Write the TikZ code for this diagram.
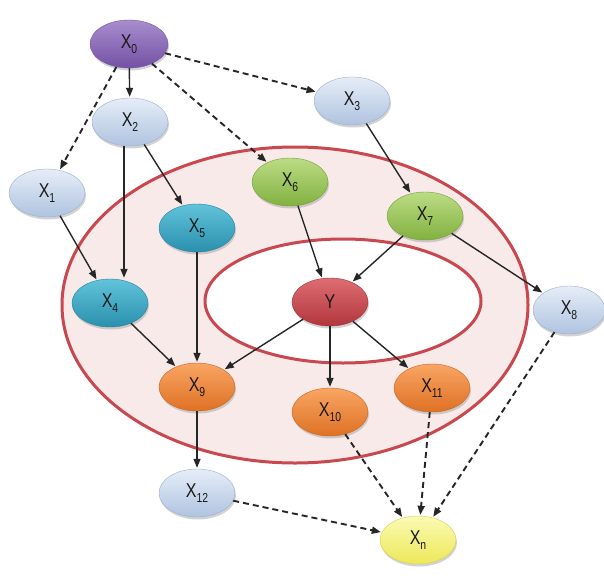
\documentclass[tikz,border=0pt]{standalone}
\usepackage{fontspec}
\setmainfont{Liberation Sans}
\usetikzlibrary{shapes.geometric,arrows.meta,shadows}
\definecolor{ringred}{HTML}{C9484F}
\definecolor{ringfill}{HTML}{F9EAEA}
\newcommand\Xs[1]{\scalebox{0.8}[1]{X\raisebox{-5pt}{\fontsize{13}{13}\selectfont #1}}}
\tikzset{
  vnode/.style={ellipse, minimum width=76pt, minimum height=48pt, inner sep=0pt,
    font=\fontsize{20}{20}\selectfont, text=black!90,
    drop shadow={opacity=0.35, shadow xshift=1pt, shadow yshift=-2.5pt}},
  cpurple/.style={vnode, top color=ptop, bottom color=pbot, draw=pbot},
  cblue/.style={vnode, top color=btop, bottom color=bbot, draw=bbot!90!black},
  cteal/.style={vnode, top color=ttop, bottom color=tbot, draw=tbot!90!black},
  cgreen/.style={vnode, top color=gtop, bottom color=gbot, draw=gbot!90!black},
  cred/.style={vnode, top color=rtop, bottom color=rbot, draw=rbot!90!black},
  corange/.style={vnode, top color=otop, bottom color=obot, draw=obot!90!black},
  cyellow/.style={vnode, top color=ytop, bottom color=ybot, draw=ybot!90!black},
  solidarrow/.style={line width=1.4pt, draw=black!85, -{Triangle[length=9pt,width=7pt]}, shorten >=1pt},
  dasharrow/.style={line width=1.9pt, draw=black!85, dash pattern=on 6pt off 4pt, -{Triangle[length=9pt,width=7pt]}, shorten >=1pt},
  ring/.style={draw=ringred, line width=3pt}
}
\definecolor{ptop}{HTML}{A88DCE}\definecolor{pbot}{HTML}{7451A4}
\definecolor{btop}{HTML}{E6EDF8}\definecolor{bbot}{HTML}{AFC3E0}
\definecolor{ttop}{HTML}{62C3DA}\definecolor{tbot}{HTML}{2A90AE}
\definecolor{gtop}{HTML}{BBDC84}\definecolor{gbot}{HTML}{82B140}
\definecolor{rtop}{HTML}{DE6D72}\definecolor{rbot}{HTML}{B1363D}
\definecolor{otop}{HTML}{F9A564}\definecolor{obot}{HTML}{DE7124}
\definecolor{ytop}{HTML}{FBFAB4}\definecolor{ybot}{HTML}{EDE858}
\begin{document}
\begin{tikzpicture}[x=1pt,y=-1pt]
\useasboundingbox (0,0) rectangle (604,583);
\fill[white] (0,0) rectangle (604,583);
% rings
\filldraw[ring, fill=ringfill] (295,305) ellipse [x radius=233, y radius=158];
\filldraw[ring, fill=white] (343,301) ellipse [x radius=138, y radius=62];
% nodes
\node[cpurple, minimum width=78pt] (x0) at (129,44) {\Xs{0}};
\node[cblue] (x1) at (47,193) {\Xs{1}};
\node[cblue] (x2) at (130,122) {\Xs{2}};
\node[cblue] (x3) at (352,101) {\Xs{3}};
\node[cteal] (x4) at (110,303) {\Xs{4}};
\node[cteal] (x5) at (197,228) {\Xs{5}};
\node[cgreen] (x6) at (290,182) {\Xs{6}};
\node[cgreen] (x7) at (425,216) {\Xs{7}};
\node[cblue, minimum width=72pt] (x8) at (569,310) {\Xs{8}};
\node[cred] (y) at (330,302) {\scalebox{0.8}[1]{Y}};
\node[corange] (x9) at (197,387) {\Xs{9}};
\node[corange] (x10) at (330,412) {\Xs{10}};
\node[corange] (x11) at (432,388) {\Xs{11}};
\node[cblue] (x12) at (197,493) {\Xs{12}};
\node[cyellow] (xn) at (418,540) {\Xs{n}};
% edges
\draw[dasharrow] (x0) -- (x1);
\draw[solidarrow] (x0) -- (x2);
\draw[dasharrow] (x0) -- (x6);
\draw[dasharrow] (x0) -- (x3);
\draw[solidarrow] (x1) -- (x4);
\draw[solidarrow] (x2.south) ++(-6,0) coordinate (a2) -- (a2 |- x4.north) ;
\draw[solidarrow] (x2) -- (x5);
\draw[solidarrow] (x3) -- (x7);
\draw[solidarrow] (x6) -- (y);
\draw[solidarrow] (x7) -- (y);
\draw[solidarrow] (x7) -- (x8);
\draw[solidarrow] (x5) -- (x9);
\draw[solidarrow] (x4) -- (x9);
\draw[solidarrow] (y) -- (x9);
\draw[solidarrow] (y) -- (x10);
\draw[solidarrow] (y) -- (x11);
\draw[solidarrow] (x9) -- (x12);
\draw[dasharrow] (x12) -- (xn);
\draw[dasharrow] (x10) -- (xn);
\draw[dasharrow] (x11) -- (xn);
\draw[dasharrow] (x8) -- (xn);
\end{tikzpicture}
\end{document}
